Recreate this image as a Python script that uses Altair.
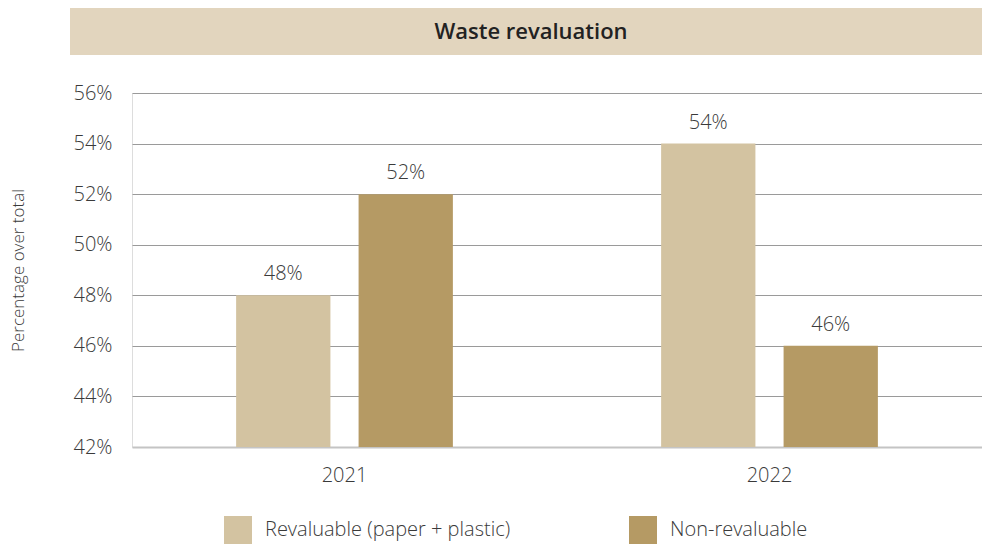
import altair as alt
import pandas as pd

years = ["2021", "2022"]
series = ["Revaluable (paper + plastic)", "Non-revaluable"]
revaluable = [0.48, 0.54]
non_revaluable = [0.52, 0.46]
colors = ["#d3c3a1", "#b59a64"]
y_ticks = [0.42, 0.44, 0.46, 0.48, 0.50, 0.52, 0.54, 0.56]

rows = []
for i, yr in enumerate(years):
    rows.append({"year": yr, "series": series[0], "value": revaluable[i]})
    rows.append({"year": yr, "series": series[1], "value": non_revaluable[i]})
df = pd.DataFrame(rows)

FONT = "Open Sans"
TXT = "#3a3a3a"
FS = 20
FW = 300

x_enc = alt.X("year:N", title=None, sort=years,
              scale=alt.Scale(paddingInner=0.49, paddingOuter=0.245),
              axis=alt.Axis(labelAngle=0, labelFontSize=FS, labelColor=TXT, labelFont=FONT,
                            labelFontWeight=FW,
                            labelPadding=18, ticks=False, domain=False, grid=False))
xo_enc = alt.XOffset("series:N", sort=series, scale=alt.Scale(paddingInner=0.23, paddingOuter=0))
y_enc = alt.Y("value:Q", title="Percentage over total",
              scale=alt.Scale(domain=[0.42, 0.56], zero=False, nice=False),
              axis=alt.Axis(values=y_ticks, format=".0%", labelFontSize=FS, labelColor=TXT,
                            labelFont=FONT, labelFontWeight=FW, labelPadding=20, ticks=False,
                            domain=False,
                            gridColor={"condition": {"test": "datum.value <= 0.42", "value": "#c4c4c4"},
                                       "value": "#9a9a9a"},
                            gridWidth={"condition": {"test": "datum.value <= 0.42", "value": 2},
                                       "value": 1},
                            titleFontSize=17, titleFont=FONT, titleFontWeight=FW,
                            titleColor=TXT, titleAngle=-90, titleX=-114, titleY=177,
                            titleAlign="center", titleBaseline="middle"))

bars = alt.Chart(df).mark_bar(clip=True).encode(
    x=x_enc, xOffset=xo_enc, y=y_enc,
    color=alt.Color("series:N", sort=series,
                    scale=alt.Scale(domain=series, range=colors),
                    legend=alt.Legend(title=None, orient="none", legendX=92, legendY=423,
                                      direction="horizontal", symbolType="square",
                                      symbolSize=784, symbolStrokeWidth=0, labelFontSize=FS,
                                      labelFont=FONT, labelFontWeight=FW, labelColor=TXT,
                                      labelOffset=13, columnPadding=118, labelLimit=400)),
)

labels = alt.Chart(df).mark_text(baseline="bottom", dy=-11, fontSize=FS, font=FONT,
                                 fontWeight=FW, color=TXT).encode(
    x=alt.X("year:N", sort=years), xOffset=alt.XOffset("series:N", sort=series),
    y=alt.Y("value:Q"),
    text=alt.Text("value:Q", format=".0%"),
)

band = alt.Chart(alt.Data(values=[{}])).mark_rect(color="#e2d5be").encode(
    x=alt.value(-62), x2=alt.value(850), y=alt.value(-85), y2=alt.value(-38)
)
title = alt.Chart(alt.Data(values=[{}])).mark_text(
    text="Waste revaluation", fontSize=22, fontWeight=600, font=FONT, color="#222222",
    align="center", baseline="middle"
).encode(x=alt.value(399), y=alt.value(-61))

chart = alt.layer(band, title, bars, labels).properties(
    width=850, height=354,
    autosize=alt.AutoSizeParams(type="none"),
    padding={"left": 132, "top": 93, "right": 0, "bottom": 98},
).configure_view(stroke=None).configure(background="white")

chart.save("out.html", embed_options={"renderer": "svg", "actions": False})
